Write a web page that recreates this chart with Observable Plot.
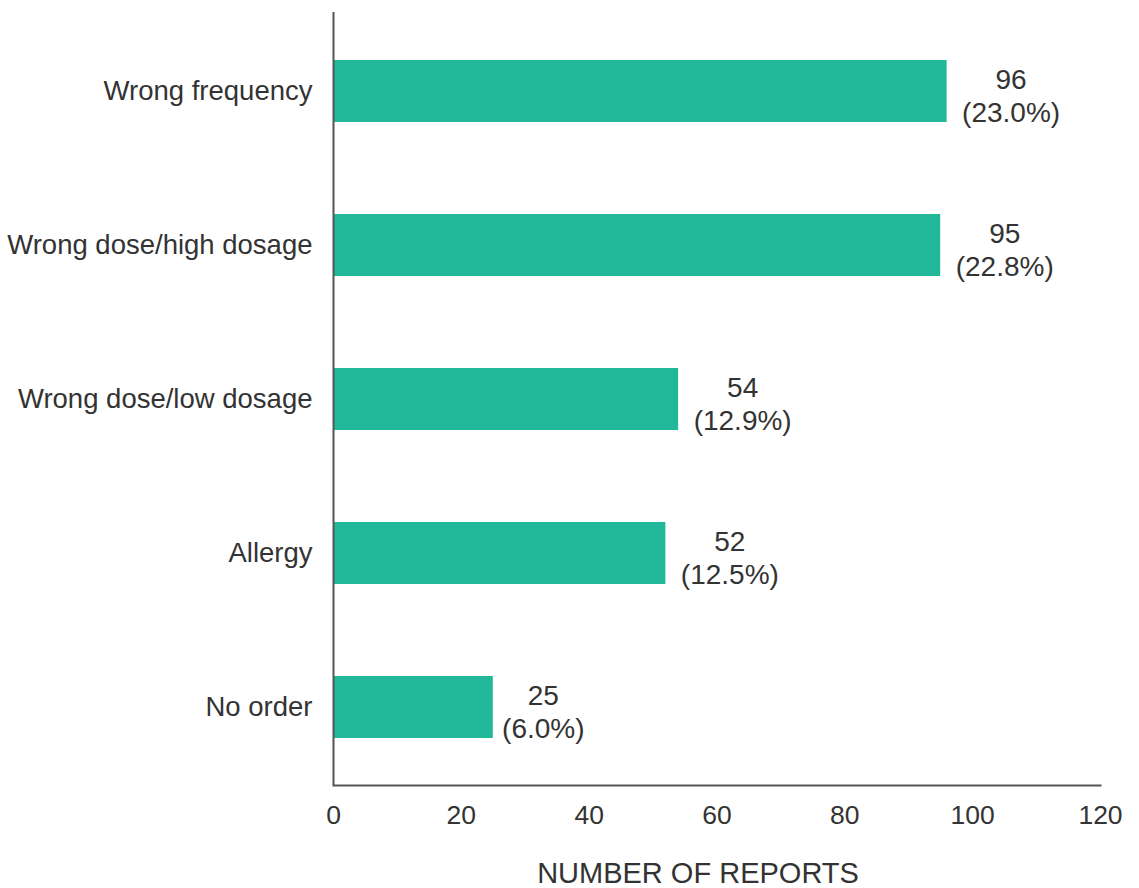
<!DOCTYPE html>
<html>
<head>
<meta charset="utf-8">
<script src="https://cdn.jsdelivr.net/npm/d3@7"></script>
<script src="https://cdn.jsdelivr.net/npm/@observablehq/plot@0.6"></script>
<style>
  html, body { margin: 0; padding: 0; background: #fff; }
  #chart svg { display: block; }
</style>
</head>
<body>
<div id="chart"></div>
<script>
const categories = ["Wrong frequency", "Wrong dose/high dosage", "Wrong dose/low dosage", "Allergy", "No order"];
const reports = [96, 95, 54, 52, 25];
const percents = ["23.0", "22.8", "12.9", "12.5", "6.0"];
const xTicks = [0, 20, 40, 60, 80, 100, 120];
const xLabel = "NUMBER OF REPORTS";

const rows = categories.map((c, i) => ({category: c, value: reports[i], pct: percents[i]}));
const longRows = rows.filter(d => d.pct.length > 3);
const shortRows = rows.filter(d => d.pct.length <= 3);
const font = "Liberation Sans, Arial, Helvetica, sans-serif";
const labelText = d => `${d.value}\n(${d.pct}%)`;

const chart = Plot.plot({
  width: 1139,
  height: 888,
  marginLeft: 333,
  marginRight: 39,
  marginTop: 12,
  marginBottom: 103,
  style: {fontFamily: font, fontSize: "27px", color: "#333", background: "#fff"},
  x: {domain: [0, 120], ticks: xTicks, label: null},
  y: {domain: categories, paddingInner: 0.6, paddingOuter: 0.3, label: null},
  marks: [
    Plot.barX(rows, {x: "value", y: "category", fill: "#20b899"}),
    Plot.text(longRows, {x: "value", y: "category", text: labelText, textAnchor: "middle", dx: 64, dy: 3, lineHeight: 1.18, fontSize: 28, fill: "#333"}),
    Plot.text(shortRows, {x: "value", y: "category", text: labelText, textAnchor: "middle", dx: 50, dy: 3, lineHeight: 1.18, fontSize: 28, fill: "#333"}),
    Plot.axisY({tickSize: 0, tickPadding: 21, fontSize: 27.5, label: null, fill: "#333"}),
    Plot.axisX({ticks: xTicks, tickSize: 0, tickPadding: 20, fontSize: 26.5, label: null, fill: "#333"}),
    Plot.ruleX([0], {stroke: "#555", strokeWidth: 2}),
    Plot.frame({anchor: "bottom", stroke: "#555", strokeWidth: 2}),
    Plot.text([xLabel], {frameAnchor: "bottom", lineAnchor: "middle", dy: 88, dx: -19, fontSize: 29, fill: "#333"})
  ]
});
document.getElementById("chart").appendChild(chart);
</script>
</body>
</html>
